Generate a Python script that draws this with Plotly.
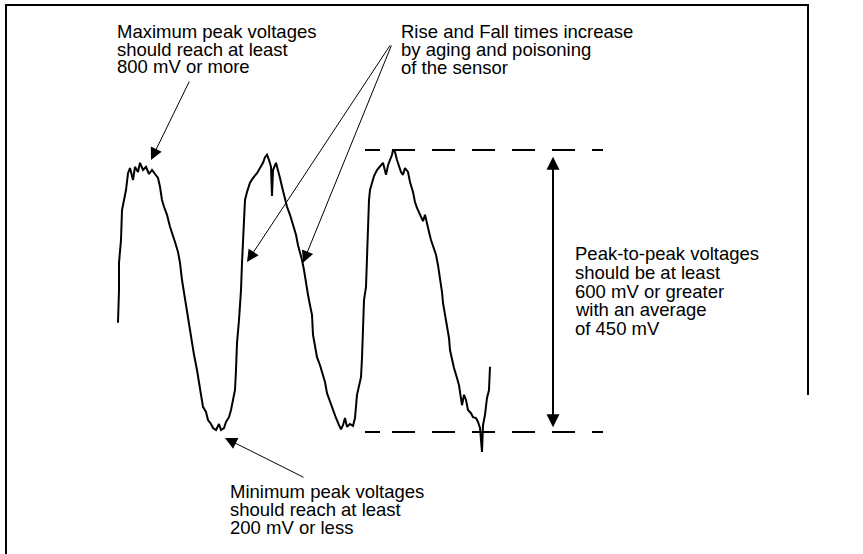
import plotly.graph_objects as go

# ---- data: oxygen-sensor waveform (time in ms, voltage in mV) ----
time_ms = [
    0, 5, 5, 15, 20, 30, 40, 50, 60, 75,
    85, 100, 110, 125, 140, 155, 170, 185, 200, 210,
    220, 230, 245, 260, 275, 285, 300, 310, 320, 330,
    340, 350, 360, 370, 380, 395, 405, 415, 425, 440,
    450, 465, 475, 490, 505, 515, 530, 540, 555, 565,
    575, 585, 590, 595, 605, 610, 615, 620, 625, 630,
    635, 645, 660, 675, 695, 710, 725, 735, 745, 755,
    765, 770, 775, 790, 800, 810, 820, 835, 845, 860,
    875, 890, 900, 910, 920, 930, 940, 950, 960, 970,
    975, 985, 995, 1010, 1020, 1035, 1045, 1060, 1075, 1090,
    1105, 1115, 1125, 1135, 1145, 1160, 1175, 1185, 1195, 1205,
    1215, 1220, 1225, 1230, 1240, 1245, 1250, 1255, 1260, 1270,
    1280, 1295, 1310, 1325, 1340, 1350, 1360, 1370, 1375, 1385,
    1395, 1405, 1415, 1425, 1435, 1450, 1460, 1475, 1485, 1495,
    1510, 1525, 1535, 1545, 1555, 1565, 1580, 1590, 1600, 1610,
    1620, 1625, 1635, 1645, 1655, 1660, 1670, 1680, 1695, 1705,
    1710, 1720, 1730, 1740, 1750, 1765, 1775, 1790, 1800, 1810,
    1820, 1825, 1835, 1845, 1855, 1860,
]
voltage_mv = [
    418, 500, 568, 625, 700, 725, 750, 792, 805, 775,
    808, 795, 818, 800, 808, 790, 800, 790, 780, 758,
    725, 708, 688, 658, 638, 620, 595, 568, 525, 492,
    462, 432, 400, 368, 338, 300, 268, 238, 208, 195,
    175, 165, 155, 150, 165, 150, 155, 170, 182, 200,
    225, 250, 300, 368, 425, 455, 500, 568, 625, 675,
    725, 745, 768, 780, 792, 805, 818, 832, 838, 825,
    808, 735, 800, 818, 795, 780, 758, 730, 708, 688,
    662, 638, 612, 595, 575, 550, 512, 488, 462, 438,
    388, 362, 332, 312, 295, 270, 242, 220, 200, 180,
    162, 152, 162, 180, 158, 165, 160, 180, 238, 262,
    282, 330, 400, 475, 508, 588, 675, 725, 750, 770,
    785, 800, 808, 818, 788, 812, 825, 838, 850, 845,
    825, 812, 795, 788, 805, 795, 770, 745, 720, 705,
    688, 672, 688, 670, 645, 625, 605, 588, 562, 530,
    495, 468, 438, 412, 380, 350, 325, 305, 280, 262,
    245, 212, 238, 225, 200, 192, 182, 180, 170, 155,
    95, 162, 188, 230, 250, 308,
]
peak_level_mv = 850
trough_level_mv = 145

text_max = ["Maximum peak voltages", "should reach at least", "800 mV or more"]
text_rise = ["Rise and Fall times increase", "by aging and poisoning", "of the sensor"]
text_p2p = ["Peak-to-peak voltages", "should be at least", "600 mV or greater",
            "with an average", "of 450 mV"]
text_min = ["Minimum peak voltages", "should reach at least", "200 mV or less"]

# ---- layout helpers ----
W, H = 863, 554
FONT = dict(family="Liberation Sans, Arial, Helvetica, sans-serif", size=18.5, color="black")


def px(x):
    return x / W


def py(y):
    return 1 - y / H


fig = go.Figure()

fig.add_trace(go.Scatter(x=time_ms, y=voltage_mv, mode="lines",
                         line=dict(color="black", width=2), hoverinfo="skip"))

dash = "15px,12px,23px,17px,23px,17px,23px,17px,23px,17px,23px,17px,23px,17px"
for lvl in (peak_level_mv, trough_level_mv):
    fig.add_trace(go.Scatter(x=[1235, 2425], y=[lvl, lvl], mode="lines",
                             line=dict(color="black", width=2, dash=dash),
                             hoverinfo="skip"))

annotations = []


def text_block(lines, left, centers):
    for ln, c in zip(lines, centers):
        annotations.append(dict(x=px(left), y=py(c), xref="paper", yref="paper",
                                text=ln, showarrow=False, xanchor="left",
                                yanchor="middle", font=FONT, borderpad=0))


text_block(text_max, 116, [31, 49, 67])
text_block(text_rise, 400, [31, 49.5, 68])
text_block(text_p2p, 574, [253, 272, 291, 309, 328])
text_block(text_min, 229, [491, 509, 527])


def arrow(tip, tail, width=1, size=2.4):
    annotations.append(dict(x=tip[0], y=tip[1], ax=tail[0], ay=tail[1],
                            xref="x", yref="y", axref="x", ayref="y",
                            text="", showarrow=True, arrowhead=2,
                            arrowsize=size, arrowwidth=width,
                            arrowcolor="black", standoff=0, startstandoff=0))


arrow((165, 825), (360, 1025))
arrow((645, 570), (1365, 1115))
arrow((925, 568), (1370, 1115))
arrow((535, 130), (935, 30))
arrow((2175, 833), (2175, 450), width=2, size=1.3)
arrow((2175, 157), (2175, 550), width=2, size=1.3)

shapes = [
    dict(type="line", xref="paper", yref="paper", x0=px(6), x1=px(6),
         y0=py(4), y1=py(560), line=dict(color="black", width=2)),
    dict(type="line", xref="paper", yref="paper", x0=px(5), x1=px(809),
         y0=py(5), y1=py(5), line=dict(color="black", width=2)),
    dict(type="line", xref="paper", yref="paper", x0=px(808), x1=px(808),
         y0=py(4), y1=py(395), line=dict(color="black", width=2)),
]

fig.update_layout(
    width=W, height=H, margin=dict(l=0, r=0, t=0, b=0),
    paper_bgcolor="white", plot_bgcolor="white", showlegend=False,
    xaxis=dict(visible=False, range=[-590, 3725], fixedrange=True),
    yaxis=dict(visible=False, range=[-160, 1225], fixedrange=True),
    annotations=annotations, shapes=shapes,
)

fig.write_html("out.html", config={"displayModeBar": False},
               post_script="document.body.style.margin='0';document.body.style.overflow='hidden';")
